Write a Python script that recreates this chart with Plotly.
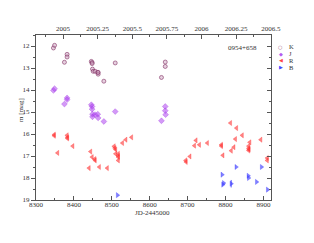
import plotly.graph_objects as go

# K band
k_jd = [8346, 8349, 8375, 8382, 8382, 8446, 8448, 8448, 8449, 8451, 8456, 8463, 8464, 8464, 8479, 8509, 8631, 8641, 8641]
k_mag = [12.09, 11.97, 12.74, 12.38, 12.5, 12.7, 12.75, 12.8, 13.05, 13.15, 13.15, 13.2, 13.28, 13.2, 13.6, 12.77, 13.43, 12.73, 12.93]
# J band
j_jd = [8346, 8349, 8375, 8382, 8382, 8446, 8448, 8448, 8449, 8449, 8456, 8463, 8464, 8479, 8509, 8631, 8641, 8641, 8642]
j_mag = [14.02, 13.94, 14.64, 14.36, 14.44, 14.67, 14.75, 14.87, 15.1, 15.22, 15.12, 15.1, 15.27, 15.43, 14.98, 15.4, 14.75, 14.94, 15.12]
# R band
r_jd = [8348, 8348, 8357, 8382, 8383, 8383, 8397, 8440, 8444, 8448, 8455, 8456, 8467, 8488,
        8506, 8508, 8510, 8510, 8517, 8517, 8517, 8517, 8528, 8537, 8552,
        8695, 8696, 8706, 8718, 8722, 8731, 8752, 8789, 8789, 8793, 8813, 8815, 8822, 8826,
        8829, 8844, 8861, 8861, 8861, 8862, 8864, 8893, 8910, 8910]
r_mag = [16.03, 16.08, 16.86, 16.06, 16.15, 16.2, 16.55, 17.55, 16.8, 17.05, 17.14, 17.2, 17.5, 17.55,
         16.56, 16.64, 16.71, 16.9, 16.9, 16.99, 17.05, 17.2, 16.41, 16.26, 16.15,
         17.2, 17.27, 17.02, 16.53, 16.29, 16.49, 16.41, 16.49, 16.55, 16.97, 15.5, 16.76, 16.6, 16.23,
         15.73, 16.06, 16.55, 16.65, 16.75, 16.7, 16.38, 16.26, 17.09, 17.2]
# B band
b_jd = [8515, 8791, 8793, 8795, 8815, 8828, 8860, 8861, 8882, 8895, 8911]
b_mag = [18.78, 17.85, 18.3, 18.23, 18.26, 17.5, 17.9, 18.0, 18.18, 17.5, 18.53]
b_err = [0, 0, 0, 0, 0.17, 0, 0, 0, 0, 0, 0]

year_ticks = [2005, 2005.25, 2005.5, 2005.75, 2006, 2006.25, 2006.5]
year_labels = ["2005", "2005.25", "2005.5", "2005.75", "2006", "2006.25", "2006.5"]
legend_names = ["K", "J", "R", "B"]
legend_syms = ["○", "◆", "◀", "▶"]
legend_cols = ["rgb(160,90,130)", "rgb(180,90,240)", "rgb(255,70,70)", "rgb(70,70,255)"]
source_name = "0954+658"

X0, X1 = 8300, 8920
JD2005 = 8371.5
yr = lambda jd: 2005 + (jd - JD2005) / 365.25

FONT = "Liberation Serif"
TXT = "#333333"
FS = 7
fig = go.Figure()
fig.add_trace(go.Scatter(x=k_jd, y=k_mag, mode="markers",
    marker=dict(symbol="circle", size=4, color="rgba(200,150,185,0.45)",
                line=dict(color="rgba(130,50,100,0.6)", width=1))))
fig.add_trace(go.Scatter(x=j_jd, y=j_mag, mode="markers",
    marker=dict(symbol="diamond", size=4.5, color="rgba(175,70,240,0.55)",
                line=dict(color="rgba(150,40,220,0.6)", width=0.5))))
fig.add_trace(go.Scatter(x=r_jd, y=r_mag, mode="markers",
    marker=dict(symbol="triangle-left", size=4.5, color="rgba(255,50,50,0.6)",
                line=dict(color="rgba(255,40,40,0.6)", width=0.5))))
fig.add_trace(go.Scatter(x=b_jd, y=b_mag, mode="markers",
    error_y=dict(type="data", array=b_err, visible=True, thickness=1, width=0, color="rgba(60,60,255,0.8)"),
    marker=dict(symbol="triangle-right", size=4.5, color="rgba(60,60,255,0.65)",
                line=dict(color="rgba(50,50,255,0.6)", width=0.5))))

axcol = "#555555"
tf = dict(size=FS, family=FONT, color=TXT)
# page body has an 8px default margin, so the figure is offset by (8, 8)
fig.update_layout(
    width=306, height=235, showlegend=False,
    margin=dict(l=28, r=43, t=27, b=43),
    paper_bgcolor="white", plot_bgcolor="white",
    font=dict(family=FONT, size=FS, color=TXT),
    xaxis=dict(range=[X0, X1], showgrid=False, zeroline=False, showline=True, linecolor=axcol,
               linewidth=1, ticks="inside", ticklen=4, tickcolor=axcol, dtick=100, tick0=8300,
               minor=dict(ticks="inside", ticklen=2, dtick=50, tickcolor=axcol),
               tickfont=tf, color=TXT, ticklabelstandoff=-2),
    yaxis=dict(range=[19, 11.5], showgrid=False, zeroline=False, showline=True, linecolor=axcol,
               linewidth=1, ticks="outside", ticklen=4, tickcolor=axcol, dtick=1, tick0=12,
               minor=dict(ticks="outside", ticklen=2, dtick=0.5, tickcolor=axcol),
               tickfont=tf, color=TXT),
    xaxis2=dict(overlaying="x", side="top", range=[yr(X0), yr(X1)], showgrid=False, zeroline=False,
                showline=True, linecolor=axcol, ticks="inside", ticklen=4, tickcolor=axcol,
                tickvals=year_ticks, ticktext=year_labels,
                minor=dict(ticks="inside", ticklen=2, dtick=0.125, tick0=2005, tickcolor=axcol),
                tickfont=tf, color=TXT),
    yaxis2=dict(overlaying="y", side="right", range=[19, 11.5], showgrid=False, zeroline=False,
                showline=True, linecolor=axcol, ticks="inside", ticklen=4, tickcolor=axcol,
                dtick=1, tick0=12, showticklabels=False, color=TXT,
                minor=dict(ticks="inside", ticklen=2, dtick=0.5, tickcolor=axcol)),
)
# invisible traces to activate the secondary axes
fig.add_trace(go.Scatter(x=[yr(X0)], y=[None], xaxis="x2", yaxis="y", mode="markers",
                         marker=dict(opacity=0), hoverinfo="skip", showlegend=False))
fig.add_trace(go.Scatter(x=[None], y=[None], xaxis="x", yaxis="y2", mode="markers",
                         marker=dict(opacity=0), hoverinfo="skip", showlegend=False))

def txt(text, x, y, **kw):
    d = dict(text=text, x=x, y=y, xref="paper", yref="paper", showarrow=False,
             xanchor="center", yanchor="middle", font=dict(size=FS, family=FONT, color=TXT))
    d.update(kw)
    return d

anns = [
    txt(source_name, (242.7 - 36) / 235, 1 - (48 - 35) / 165),
    txt("m [mag]", (21 - 36) / 235, (200 - 110) / 165, textangle=-90),
    txt("JD-2445000", (152 - 36) / 235, -(213 - 200) / 165),
]
for i, (nm, sym, col) in enumerate(zip(legend_names, legend_syms, legend_cols)):
    yy = 1 - (46.8 + i * 6.8 - 35) / 165
    anns.append(txt(sym, (280.7 - 36) / 235, yy, font=dict(size=5, family="DejaVu Sans", color=col)))
    anns.append(txt(nm, (287 - 36) / 235, yy, xanchor="left",
                    font=dict(size=6.5, family=FONT, color=TXT)))
fig.update_layout(annotations=anns)
fig.write_html("out.html")
